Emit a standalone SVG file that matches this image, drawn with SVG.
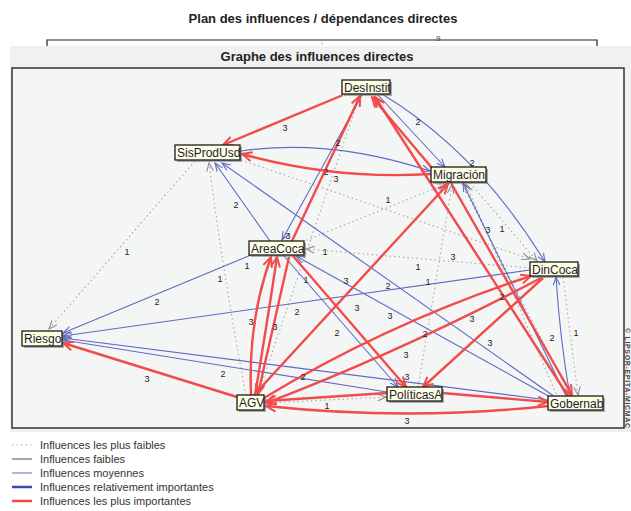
<svg xmlns="http://www.w3.org/2000/svg" width="631" height="511" viewBox="0 0 631 511">
<defs>
<style>
.r{stroke:#f24b4b;stroke-width:2.4;fill:none;marker-end:url(#ar)}
.b{stroke:#5f6ac4;stroke-width:1.1;fill:none;marker-end:url(#ab)}
.d{stroke:#a6a6a6;stroke-width:1.1;stroke-dasharray:1.5 3;fill:none;marker-end:url(#ad)}
.lbl{font-family:"Liberation Sans",Arial,sans-serif;font-size:9px;fill:#222;text-anchor:middle}
.box{fill:#fdfde0;stroke:#1a1a1a;stroke-width:1.3}
.sh{fill:#6e6e6e;opacity:.55}
.nt{font-family:"Liberation Sans",Arial,sans-serif;font-size:12px;fill:#1c1c3c}
.lg{font-family:"Liberation Sans",Arial,sans-serif;font-size:11px;fill:#333}
.ttl{font-family:"Liberation Sans",Arial,sans-serif;font-size:13px;font-weight:bold;fill:#222;text-anchor:middle}
</style>
<marker id="ar" viewBox="0 0 12 12" refX="11" refY="6" markerWidth="12" markerHeight="12" orient="auto" markerUnits="userSpaceOnUse"><path d="M1,1.5 L11,6 L1,10.5" fill="none" stroke="#f24b4b" stroke-width="2"/></marker>
<marker id="ab" viewBox="0 0 12 12" refX="11" refY="6" markerWidth="10" markerHeight="10" orient="auto" markerUnits="userSpaceOnUse"><path d="M1,2 L11,6 L1,10" fill="none" stroke="#5f6ac4" stroke-width="1.3"/></marker>
<marker id="ad" viewBox="0 0 12 12" refX="11" refY="6" markerWidth="10" markerHeight="10" orient="auto" markerUnits="userSpaceOnUse"><path d="M1,2 L11,6 L1,10" fill="none" stroke="#8c8c8c" stroke-width="1.3"/></marker>
<clipPath id="c1"><rect x="342" y="80" width="48" height="14"/></clipPath>
<clipPath id="c2"><rect x="175" y="145" width="65" height="15"/></clipPath>
<clipPath id="c3"><rect x="431" y="167" width="55" height="15"/></clipPath>
<clipPath id="c4"><rect x="249" y="241" width="55" height="14"/></clipPath>
<clipPath id="c5"><rect x="530" y="262" width="48" height="14"/></clipPath>
<clipPath id="c6"><rect x="22" y="331" width="40" height="15"/></clipPath>
<clipPath id="c7"><rect x="237" y="395" width="27" height="15"/></clipPath>
<clipPath id="c8"><rect x="387" y="387" width="55" height="14"/></clipPath>
<clipPath id="c9"><rect x="548" y="396" width="55" height="14"/></clipPath>
</defs>
<rect width="631" height="511" fill="#ffffff"/>
<text class="ttl" x="323" y="23">Plan des influences / dépendances directes</text>
<path d="M47,46 V40 H597 V46" fill="none" stroke="#222" stroke-width="1.2"/>
<line x1="322" y1="40" x2="322" y2="46" stroke="#999" stroke-dasharray="1.5 1.5"/>
<text x="436" y="41" font-family="Liberation Sans, Arial, sans-serif" font-size="8" fill="#444">9</text>
<rect x="10" y="46" width="621" height="386" fill="#f1f1f1"/>
<text class="ttl" x="317" y="61">Graphe des influences directes</text>
<rect x="12" y="68" width="612" height="360" fill="#f4f6f6" stroke="#333" stroke-width="1.5"/>
<text transform="translate(625,328) rotate(90)" font-family="Liberation Sans, Arial, sans-serif" font-size="7" font-weight="bold" fill="#444" textLength="100" lengthAdjust="spacing">© LIPSOR-EPITA-MICMAC</text>

<g id="connectors">
<g id="weakest">
<path class="d" d="M195,161 L49,329"/>
<path class="d" d="M246,395 Q224,280 209,163"/>
<path class="d" d="M530,268 L306,249"/>
<path class="d" d="M302,242 L446,184"/>
<path class="d" d="M241,160 L530,259"/>
<path class="d" d="M462,184 L570,395"/>
<path class="d" d="M470,183 L537,261"/>
<path class="d" d="M563,277 L578,395"/>
<path class="d" d="M418,387 L452,185"/>
<path class="d" d="M266,403 L386,397"/>
<path class="d" d="M360,95 L258,394"/>
<path class="d" d="M558,398 L466,184"/>
</g>
<g id="medium">
<path class="b" d="M241,151 Q330,138 430,171"/>
<path class="b" d="M378,95 L445,167"/>
<path class="b" d="M382,94 Q478,152 545,262"/>
<path class="b" d="M270,241 L215,163"/>
<path class="b" d="M362,95 L282,240"/>
<path class="b" d="M555,397 L222,163"/>
<path class="b" d="M552,398 L296,256"/>
<path class="b" d="M284,256 L398,387"/>
<path class="b" d="M530,270 L63,336"/>
<path class="b" d="M566,396 L463,183"/>
<path class="b" d="M570,396 Q560,340 556,277"/>
<path class="b" d="M251,255 L63,333"/>
<path class="b" d="M387,392 L63,340"/>
<path class="b" d="M548,400 L63,338"/>
</g>
<g id="strongest">
<path class="r" d="M343,95 L223,145"/>
<path class="r" d="M431,174 Q336,180 242,154"/>
<path class="r" d="M292,241 L360,96"/>
<path class="r" d="M432,168 L372,97"/>
<path class="r" d="M568,396 L375,97"/>
<path class="r" d="M451,183 L572,395"/>
<path class="r" d="M254,395 L448,184"/>
<path class="r" d="M251,395 Q248,320 271,257"/>
<path class="r" d="M255,395 Q266,330 277,257"/>
<path class="r" d="M289,257 L258,394"/>
<path class="r" d="M237,397 L63,343"/>
<path class="r" d="M264,398 Q390,322 531,276"/>
<path class="r" d="M541,278 Q400,352 266,403"/>
<path class="r" d="M543,278 L423,387"/>
<path class="r" d="M293,256 L406,387"/>
<path class="r" d="M387,393 L266,401"/>
<path class="r" d="M442,393 L548,402"/>
<path class="r" d="M548,406 Q408,421 266,406"/>
</g>
<g id="labels">
<text class="lbl" x="285" y="131">3</text>
<text class="lbl" x="338" y="146">2</text>
<text class="lbl" x="418" y="125">2</text>
<text class="lbl" x="472" y="166">2</text>
<text class="lbl" x="326" y="175">2</text>
<text class="lbl" x="336" y="182">3</text>
<text class="lbl" x="388" y="203">1</text>
<text class="lbl" x="236" y="208">2</text>
<text class="lbl" x="288" y="239">3</text>
<text class="lbl" x="325" y="255">1</text>
<text class="lbl" x="127" y="255">1</text>
<text class="lbl" x="488" y="233">3</text>
<text class="lbl" x="502" y="232">1</text>
<text class="lbl" x="453" y="260">3</text>
<text class="lbl" x="418" y="270">1</text>
<text class="lbl" x="428" y="285">1</text>
<text class="lbl" x="247" y="269">1</text>
<text class="lbl" x="220" y="282">1</text>
<text class="lbl" x="306" y="283">1</text>
<text class="lbl" x="346" y="284">3</text>
<text class="lbl" x="388" y="289">2</text>
<text class="lbl" x="157" y="305">2</text>
<text class="lbl" x="502" y="300">2</text>
<text class="lbl" x="297" y="315">2</text>
<text class="lbl" x="357" y="311">3</text>
<text class="lbl" x="390" y="319">3</text>
<text class="lbl" x="472" y="322">3</text>
<text class="lbl" x="251" y="325">3</text>
<text class="lbl" x="275" y="330">3</text>
<text class="lbl" x="337" y="336">2</text>
<text class="lbl" x="425" y="337">2</text>
<text class="lbl" x="490" y="346">3</text>
<text class="lbl" x="552" y="341">2</text>
<text class="lbl" x="576" y="336">1</text>
<text class="lbl" x="406" y="358">3</text>
<text class="lbl" x="223" y="377">2</text>
<text class="lbl" x="303" y="380">2</text>
<text class="lbl" x="147" y="382">3</text>
<text class="lbl" x="407" y="380">3</text>
<text class="lbl" x="327" y="409">1</text>
<text class="lbl" x="407" y="424">3</text>
</g>
</g>

<g id="n-DesInstit"><rect class="sh" x="344" y="82" width="48" height="14"/><rect class="box" x="342" y="80" width="48" height="14"/><text class="nt" x="344" y="91.5" clip-path="url(#c1)">DesInstit</text></g>
<g id="n-SisProdUsd"><rect class="sh" x="177" y="147" width="65" height="15"/><rect class="box" x="175" y="145" width="65" height="15"/><text class="nt" x="177" y="157" clip-path="url(#c2)">SisProdUsd</text></g>
<g id="n-Migracion"><rect class="sh" x="433" y="169" width="55" height="15"/><rect class="box" x="431" y="167" width="55" height="15"/><text class="nt" x="433" y="179" clip-path="url(#c3)">Migración</text></g>
<g id="n-AreaCoca"><rect class="sh" x="251" y="243" width="55" height="14"/><rect class="box" x="249" y="241" width="55" height="14"/><text class="nt" x="251" y="252.5" clip-path="url(#c4)">AreaCoca</text></g>
<g id="n-DinCoca"><rect class="sh" x="532" y="264" width="48" height="14"/><rect class="box" x="530" y="262" width="48" height="14"/><text class="nt" x="532" y="273.5" clip-path="url(#c5)">DinCoca</text></g>
<g id="n-Riesgo"><rect class="sh" x="24" y="333" width="40" height="15"/><rect class="box" x="22" y="331" width="40" height="15"/><text class="nt" x="24" y="343" clip-path="url(#c6)">Riesgo</text></g>
<g id="n-AGV"><rect class="sh" x="239" y="397" width="27" height="15"/><rect class="box" x="237" y="395" width="27" height="15"/><text class="nt" x="239" y="407" clip-path="url(#c7)">AGV</text></g>
<g id="n-PoliticasA"><rect class="sh" x="389" y="389" width="55" height="14"/><rect class="box" x="387" y="387" width="55" height="14"/><text class="nt" x="389" y="398.5" clip-path="url(#c8)">PolíticasA</text></g>
<g id="n-Gobernab"><rect class="sh" x="550" y="398" width="55" height="14"/><rect class="box" x="548" y="396" width="55" height="14"/><text class="nt" x="550" y="407.5" clip-path="url(#c9)">Gobernab</text></g>

<g id="legend">
<line x1="12" y1="445" x2="32" y2="445" stroke="#aaa" stroke-width="1.1" stroke-dasharray="1.5 3"/>
<text class="lg" x="40" y="449">Influences les plus faibles</text>
<line x1="12" y1="459" x2="32" y2="459" stroke="#888" stroke-width="1.5"/>
<text class="lg" x="40" y="463">Influences faibles</text>
<line x1="12" y1="473" x2="32" y2="473" stroke="#7a88d2" stroke-width="1.2"/>
<text class="lg" x="40" y="477">Influences moyennes</text>
<line x1="12" y1="487" x2="32" y2="487" stroke="#3a48b0" stroke-width="2.5"/>
<text class="lg" x="40" y="491">Influences relativement importantes</text>
<line x1="12" y1="501" x2="32" y2="501" stroke="#f24b4b" stroke-width="2.5"/>
<text class="lg" x="40" y="505">Influences les plus importantes</text>
</g>
</svg>
